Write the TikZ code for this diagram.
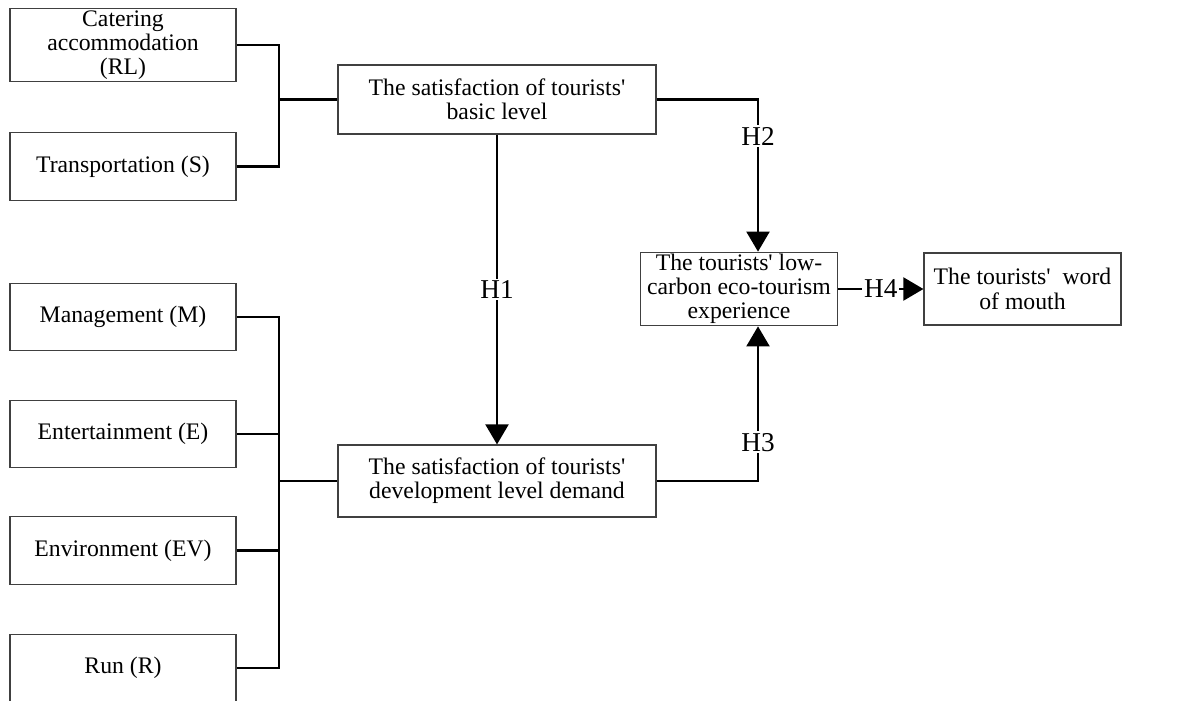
\documentclass[tikz,border=0pt]{standalone}
\usepackage{fontspec}
\newfontfamily\boxfont[Ligatures=TeXOff]{Liberation Serif}
\usetikzlibrary{arrows.meta}

\begin{document}
\begin{tikzpicture}[x=0.02cm, y=-0.02cm,
    feld/.style={draw=black!75, line width=0.7pt, align=center, inner sep=1pt, font=\boxfont\fontsize{13.5}{13.8}\selectfont},
    faktor/.style={feld, minimum width=4.52cm, minimum height=1.35cm},
    stufe/.style={feld, minimum width=6.36cm, minimum height=1.38cm},
    ziel/.style={feld, minimum width=3.94cm, minimum height=1.44cm},
    linie/.style={line width=1.2pt},
    pfeil/.style={linie, -{Triangle[width=0.46cm, length=0.4cm]}},
    hyp/.style={fill=white, inner sep=1pt, font=\boxfont\fontsize{15.5}{16}\selectfont}]
    \useasboundingbox (0,0) rectangle (1200,700);

    % Faktoren links
    \node[faktor] (rl)  at (123,45)    {Catering\\accommodation\\(RL)};
    \node[faktor] (s)   at (123,166.5) {Transportation (S)};
    \node[faktor] (m)   at (123,317)   {Management (M)};
    \node[faktor] (e)   at (123,434)   {Entertainment (E)};
    \node[faktor] (ev)  at (123,550.5) {Environment (EV)};
    \node[faktor] (r)   at (123,668)   {Run (R)};

    % Zufriedenheit
    \node[stufe] (basis) at (497,99.5) {The satisfaction of tourists'\\basic level};
    \node[stufe, minimum height=1.44cm] (entw) at (497,481) {The satisfaction of tourists'\\development level demand};

    % Erlebnis und Mundpropaganda
    \node[ziel] (erleb) at (739,289) {The tourists' low-\\carbon eco-tourism\\experience};
    \node[ziel] (mund)  at (1022.5,289) {The tourists'~ word\\of mouth};

    % Sammelpunkte
    \coordinate (ko) at (279,99.5);
    \coordinate (ku) at (279,481);
    \coordinate (hx) at (758,289);

    % Klammern
    \draw[linie] (rl.east) -| (ko);
    \draw[linie] (s.east) -| (ko);
    \draw[linie] (ko) -- (basis.west);
    \foreach \f in {m,e,ev,r}
        \draw[linie] (\f.east) -| (ku);
    \draw[linie] (ku) -- (entw.west);

    % Hypothesen
    \draw[pfeil] (basis) -- node[hyp] {H1} (entw);
    \draw[pfeil] (basis.east) -| node[hyp, pos=0.62] {H2} (hx |- erleb.north);
    \draw[pfeil] (entw.east) -| node[hyp, pos=0.625] {H3} (hx |- erleb.south);
    \draw[pfeil] (erleb) -- node[hyp] {H4} (mund);
\end{tikzpicture}
\end{document}
